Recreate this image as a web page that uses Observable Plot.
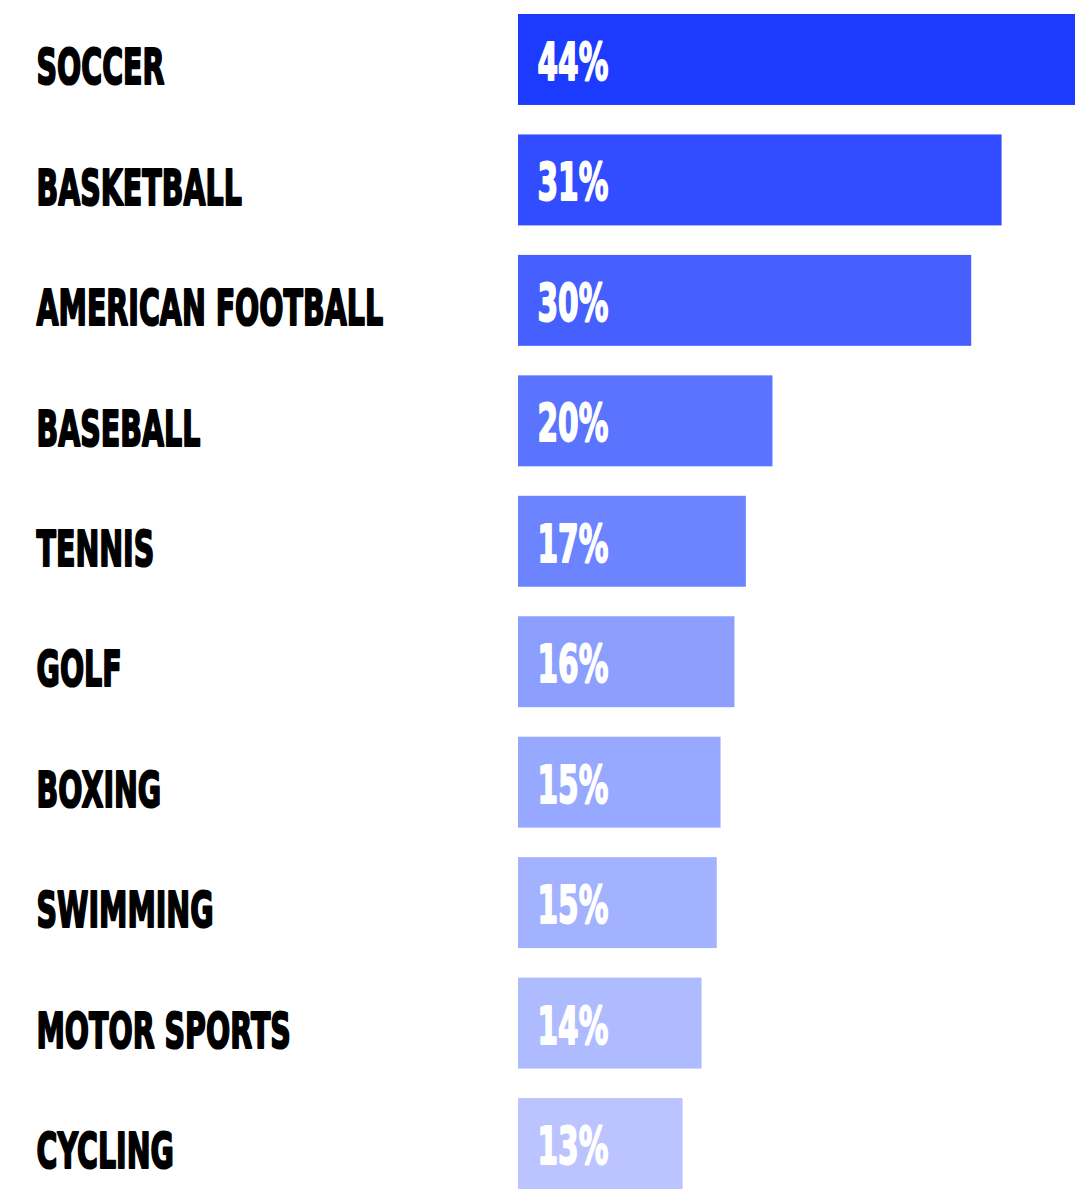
<!DOCTYPE html>
<html>
<head>
<meta charset="utf-8">
<script src="https://cdn.jsdelivr.net/npm/d3@7"></script>
<script src="https://cdn.jsdelivr.net/npm/@observablehq/plot@0.6"></script>
<style>
  html, body { margin: 0; padding: 0; background: #fff; }
  #chart svg { display: block; }
</style>
</head>
<body>
<div id="chart"></div>
<script>
const sports = ["SOCCER", "BASKETBALL", "AMERICAN FOOTBALL", "BASEBALL", "TENNIS", "GOLF", "BOXING", "SWIMMING", "MOTOR SPORTS", "CYCLING"];
const shareLabels = ["44%", "31%", "30%", "20%", "17%", "16%", "15%", "15%", "14%", "13%"];
// bar lengths as drawn in the picture (same units as the labels)
const barLengths = [44, 38.2, 35.8, 20.1, 18.0, 17.1, 16.0, 15.7, 14.5, 13.0];
const barColors = ["#1d3bff", "#324dff", "#4560ff", "#5a74ff", "#6c84ff", "#8c9fff", "#97a8ff", "#a3b2ff", "#aebbff", "#bbc4ff"];

const data = sports.map((s, i) => ({sport: s, label: shareLabels[i], len: barLengths[i], color: barColors[i]}));

const font = "'DejaVu Sans', sans-serif";

const plot = Plot.plot({
  width: 1075,
  height: 1197,
  marginLeft: 518,
  marginRight: 0,
  marginTop: 14,
  marginBottom: 8,
  x: {domain: [0, 44], axis: null},
  y: {domain: sports, paddingInner: 0.245, paddingOuter: 0, round: false, axis: null},
  color: {type: "identity"},
  marks: [
    Plot.barX(data, {x: "len", y: "sport", fill: "color"}),
    Plot.text(data, {
      x: 0, y: "sport", text: "sport",
      textAnchor: "start", dx: -482, dy: 8.2,
      fontFamily: font, fontWeight: "bold", fontSize: 50,
      fill: "#000", stroke: "#000", strokeWidth: 2.2,
      className: "cat-label"
    }),
    Plot.text(data, {
      x: 0, y: "sport", text: "label",
      textAnchor: "start", dx: 19, dy: 3.7,
      fontFamily: font, fontWeight: "bold", fontSize: 51,
      fill: "#fff", stroke: "#fff", strokeWidth: 2,
      className: "pct-label"
    })
  ]
});

// condense the lettering horizontally (keeps Plot's own translate)
function condense(sel, s) {
  plot.querySelectorAll(sel + " text").forEach(t => {
    const tr = t.getAttribute("transform") || "";
    t.setAttribute("transform", `${tr} scale(${s},1)`);
  });
}
condense(".cat-label", 0.57);
condense(".pct-label", 0.58);

document.getElementById("chart").appendChild(plot);
</script>
</body>
</html>
